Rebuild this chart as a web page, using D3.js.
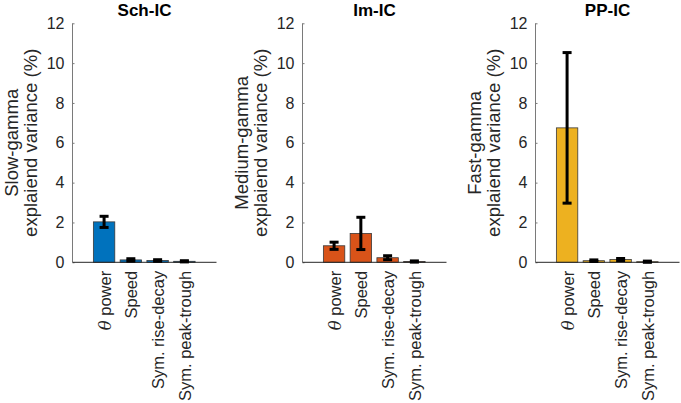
<!DOCTYPE html>
<html>
<head>
<meta charset="utf-8">
<script src="https://cdn.jsdelivr.net/npm/d3@7"></script>
<style>
  html, body { margin: 0; padding: 0; background: #fff; }
  svg { display: block; }
  text { font-family: "Liberation Sans", Arial, Helvetica, sans-serif; }
</style>
</head>
<body>
<svg id="chart" width="681" height="403"></svg>
<script>
// ---- data ----
const categories = ["power", "Speed", "Sym. rise-decay", "Sym. peak-trough"];
const panelTitles = ["Sch-IC", "Im-IC", "PP-IC"];
const yLabelsTop = ["Slow-gamma", "Medium-gamma", "Fast-gamma"];
const yLabelBottom = "explaiend variance (%)";
const yTicks = [0, 2, 4, 6, 8, 10, 12];

const schValues = [2.03, 0.12, 0.09, 0.05];
const schErrors = [0.28, 0.06, 0.04, 0.03];
const imValues  = [0.83, 1.45, 0.23, 0.04];
const imErrors  = [0.18, 0.81, 0.10, 0.03];
const ppValues  = [6.75, 0.08, 0.14, 0.03];
const ppErrors  = [3.78, 0.04, 0.05, 0.03];

const panelColors = ["#0072BD", "#D95319", "#EDB120"];

const panels = [
  {title: panelTitles[0], ylab: yLabelsTop[0], values: schValues, errors: schErrors, color: panelColors[0], left: 72.5},
  {title: panelTitles[1], ylab: yLabelsTop[1], values: imValues,  errors: imErrors,  color: panelColors[1], left: 302.5},
  {title: panelTitles[2], ylab: yLabelsTop[2], values: ppValues,  errors: ppErrors,  color: panelColors[2], left: 535.5}
];

const svg = d3.select("#chart");
const plotTop = 23.3, plotBottom = 262.3, panelW = 144;

panels.forEach(p => {
  const g = svg.append("g");
  const x = d3.scaleLinear().domain([-0.18, 5.2]).range([p.left, p.left + panelW]);
  const y = d3.scaleLinear().domain([0, 12]).range([plotBottom, plotTop]);
  const bw = x(0.8) - x(0);

  // axes
  const yAxis = d3.axisLeft(y).tickValues(yTicks).tickSize(-2).tickPadding(8);
  const ya = g.append("g").attr("transform", `translate(${p.left},0)`).call(yAxis);
  ya.select(".domain").attr("stroke", "#7a7a7a").attr("d", `M0,${plotTop}V${plotBottom}`);
  ya.selectAll(".tick line").attr("stroke", "#7a7a7a");
  ya.selectAll(".tick text").attr("font-size", 16).attr("fill", "#262626")
    .attr("font-family", "'Liberation Sans', Arial, sans-serif");

  // bars
  g.selectAll("rect.bar").data(p.values).join("rect")
    .attr("class", "bar")
    .attr("x", (d, i) => x(i + 1) - bw / 2)
    .attr("width", bw)
    .attr("y", d => y(d))
    .attr("height", d => y(0) - y(d))
    .attr("fill", p.color)
    .attr("stroke", "#3a3a3a")
    .attr("stroke-width", 0.8);

  // x axis line
  g.append("line").attr("x1", p.left).attr("x2", p.left + panelW)
    .attr("y1", plotBottom).attr("y2", plotBottom).attr("stroke", "#262626").attr("stroke-width", 1);

  // error bars
  const cap = 4.5;
  p.values.forEach((v, i) => {
    const e = p.errors[i];
    const cx = x(i + 1);
    const eg = g.append("g").attr("stroke", "#000").attr("stroke-width", 3);
    eg.append("line").attr("x1", cx).attr("x2", cx).attr("y1", y(v - e)).attr("y2", y(v + e));
    eg.append("line").attr("x1", cx - cap).attr("x2", cx + cap).attr("y1", y(v + e)).attr("y2", y(v + e));
    eg.append("line").attr("x1", cx - cap).attr("x2", cx + cap).attr("y1", y(v - e)).attr("y2", y(v - e));
  });

  // x tick labels (rotated)
  categories.forEach((c, i) => {
    const t = g.append("text")
      .attr("transform", `translate(${x(i + 1) + 6.5},${plotBottom + 8.5}) rotate(-90)`)
      .attr("text-anchor", "end")
      .attr("font-size", 16.5)
      .attr("fill", "#262626");
    if (i === 0) {
      t.append("tspan").attr("font-style", "italic").attr("font-family", "'DejaVu Serif', 'Liberation Serif', serif").text("θ");
      t.append("tspan").text(" " + c);
    } else {
      t.text(c);
    }
  });

  // title
  g.append("text").attr("x", p.left + panelW / 2).attr("y", 15.5)
    .attr("text-anchor", "middle").attr("font-weight", "bold").attr("font-size", 17)
    .attr("fill", "#000").text(p.title);

  // y label
  const cy = (plotTop + plotBottom) / 2;
  g.append("text").attr("transform", `translate(${p.left - 55},${cy}) rotate(-90)`)
    .attr("text-anchor", "middle").attr("font-size", 18.5).attr("fill", "#262626").text(p.ylab);
  g.append("text").attr("transform", `translate(${p.left - 36},${cy}) rotate(-90)`)
    .attr("text-anchor", "middle").attr("font-size", 18.5).attr("fill", "#262626").text(yLabelBottom);
});
</script>
</body>
</html>
